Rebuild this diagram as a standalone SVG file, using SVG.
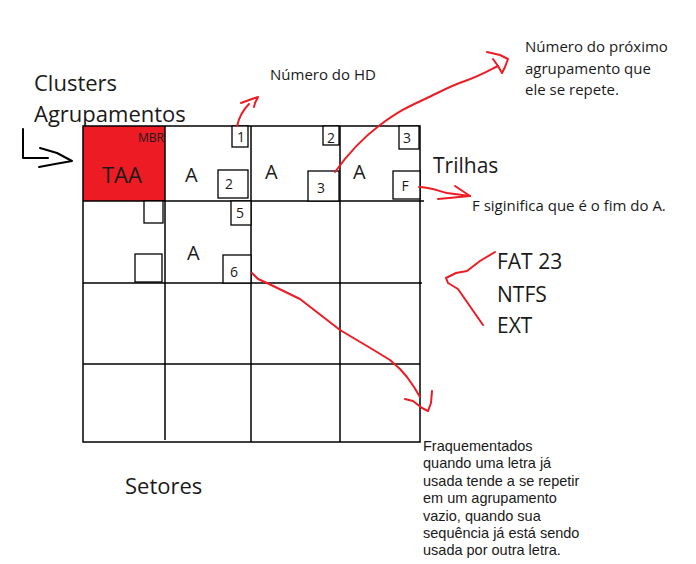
<svg xmlns="http://www.w3.org/2000/svg" width="696" height="564" viewBox="0 0 696 564">
<style>
text{font-family:"Open Sans","Liberation Sans",sans-serif;fill:#1a1a1a}
.grid{stroke:#000;stroke-width:1.5;fill:none}
.box{stroke:#000;stroke-width:1.3;fill:#fff}
.num{font-size:14px;text-anchor:middle}
.big{font-size:22px}
.cellA{font-size:20px}
.para{font-family:"Liberation Sans","Open Sans",sans-serif;font-size:14.5px}
.red{stroke:#ED1C24;stroke-width:2;fill:none;stroke-linecap:round;stroke-linejoin:round}
.blk{stroke:#000;stroke-width:2;fill:none;stroke-linecap:round;stroke-linejoin:round}
</style>
<rect width="696" height="564" fill="#fff"/>

<g id="labels">
<text class="big" x="34" y="91">Clusters</text>
<text class="big" x="34" y="122">Agrupamentos</text>
<text x="270" y="80" font-size="15">Número do HD</text>
<text font-size="15"><tspan x="525" y="52">Número do próximo</tspan><tspan x="525" y="74">agrupamento que</tspan><tspan x="525" y="95">ele se repete.</tspan></text>
<text x="433" y="173" font-size="21">Trilhas</text>
<text x="472" y="211" font-size="15">F siginifica que é o fim do A.</text>
<text font-size="21"><tspan x="497" y="269">FAT 23</tspan><tspan x="497" y="302">NTFS</tspan><tspan x="497" y="333">EXT</tspan></text>
<text class="big" x="125" y="494">Setores</text>
<text class="para"><tspan x="423" y="451">Fraquementados</tspan><tspan x="423" y="468">quando uma letra já</tspan><tspan x="423" y="486">usada tende a se repetir</tspan><tspan x="423" y="503">em um agrupamento</tspan><tspan x="423" y="521">vazio, quando sua</tspan><tspan x="423" y="538">sequência já está sendo</tspan><tspan x="423" y="555">usada por outra letra.</tspan></text>
</g>

<g id="grid">
<rect x="83" y="126" width="82" height="75" fill="#ED1C24"/>
<rect class="grid" x="83" y="126" width="337" height="316"/>
<line class="grid" x1="165" y1="126" x2="165" y2="440"/>
<line class="grid" x1="251" y1="126" x2="251" y2="442"/>
<line class="grid" x1="340" y1="126" x2="340" y2="442"/>
<line class="grid" x1="83" y1="201" x2="424" y2="201"/>
<line class="grid" x1="83" y1="283" x2="422" y2="283"/>
<line class="grid" x1="83" y1="364" x2="420" y2="364"/>
</g>

<g id="cell-taa">
<text x="138" y="142" font-size="12" fill="#222">MBR</text>
<text class="big" x="102" y="183">TAA</text>
</g>

<g id="cell-1-0">
<text class="cellA" x="185" y="182">A</text>
<rect class="box" x="232" y="126" width="16" height="21"/>
<text class="num" x="241" y="142">1</text>
<rect class="box" x="218" y="170" width="30" height="28"/>
<text class="num" x="229" y="189">2</text>
</g>

<g id="cell-2-0">
<text class="cellA" x="265" y="179">A</text>
<rect class="box" x="323" y="126" width="16" height="19"/>
<text class="num" x="331" y="143">2</text>
<rect class="box" x="308" y="171" width="31" height="30"/>
<text class="num" x="321" y="193">3</text>
</g>

<g id="cell-3-0">
<text class="cellA" x="353" y="179">A</text>
<rect class="box" x="399" y="126" width="20" height="23"/>
<text class="num" x="407" y="143">3</text>
<rect class="box" x="393" y="171" width="27" height="28"/>
<text class="num" x="405" y="191">F</text>
</g>

<g id="cell-0-1">
<rect class="box" x="144" y="201" width="19" height="22"/>
<rect class="box" x="135" y="254" width="27" height="28"/>
</g>

<g id="cell-1-1">
<text class="cellA" x="187" y="260">A</text>
<rect class="box" x="231" y="201" width="20" height="24"/>
<text class="num" x="240" y="218">5</text>
<rect class="box" x="223" y="255" width="28" height="28"/>
<text class="num" x="234" y="277">6</text>
</g>

<g id="connectors">
<path class="blk" d="M23,129 L23,158 L48,158"/>
<path class="blk" d="M40,148 L57,153 L72,161 L55,164 L39,167"/>
<path class="red" d="M237,126 Q240,113 249,104"/>
<path class="red" d="M241,103 L252,99 L258,97 L255,103 L254,107"/>
<path class="red" d="M335,172 C345,158 360,140 380,125 S410,106 425,99 S450,86 465,81 S490,70 498,66"/>
<path class="red" d="M487,52 L500,55 L508,59 L505,67 L502,73 L498,66 L493,59"/>
<path class="red" d="M419,187 C430,187 438,191 447,193 C455,194 462,195 470,196"/>
<path class="red" d="M455,186 L470,196 L438,199"/>
<path class="red" d="M495,252 L480,261 L467,271 L456,273 L446,278 L448,283 L458,289 L467,302 L483,325"/>
<path class="red" d="M252,273 L258,279 L267,283 L300,299 L340,330 L372,349 L390,360 L400,369 L407,377 L414,387 L420,397"/>
<path class="red" d="M405,399 L413,401 L422,408 L428,411 L431,403 L432,391"/>
</g>
</svg>
